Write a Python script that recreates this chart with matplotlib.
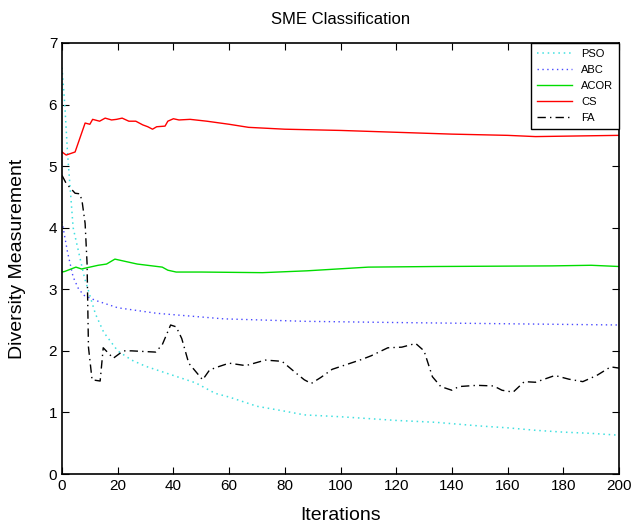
import matplotlib.pyplot as plt

plt.rcParams['font.family'] = ['Liberation Sans', 'DejaVu Sans']

# PSO
pso_it = [0, 1, 2, 3, 4, 6, 8, 10, 12, 15, 20, 25, 30, 40, 48, 55, 60, 70, 80, 87,
          100, 110, 120, 134, 150, 160, 170, 180, 190, 200]
pso_val = [6.6, 6.0, 5.2, 4.6, 4.0, 3.6, 3.2, 2.9, 2.6, 2.3, 2.0, 1.85, 1.75, 1.6, 1.48,
           1.31, 1.25, 1.1, 1.02, 0.96, 0.93, 0.9, 0.87, 0.84, 0.78, 0.75, 0.71, 0.68,
           0.66, 0.63]

# ABC
abc_it = [0, 2, 4, 6, 8, 12, 20, 34, 58, 87, 120, 160, 200]
abc_val = [4.1, 3.6, 3.2, 3.0, 2.9, 2.82, 2.7, 2.61, 2.52, 2.48, 2.46, 2.44, 2.42]

# ACOR
acor_it = [0, 1, 5, 7, 13, 16, 19, 23, 27, 36, 38, 41, 50, 72, 88, 110, 134, 176, 190, 200]
acor_val = [3.28, 3.29, 3.36, 3.33, 3.39, 3.41, 3.49, 3.45, 3.41, 3.36, 3.31, 3.28,
            3.28, 3.27, 3.3, 3.36, 3.37, 3.38, 3.39, 3.37]

# CS
cs_it = [0, 1.5, 4.7, 8.3, 10, 11, 13.5, 15.5, 17.8, 19.6, 21.6, 24, 26.5, 29, 30.8,
         32.5, 34, 37, 38, 40, 42, 46, 52, 60, 67, 80, 100, 120, 140, 160, 170, 200]
cs_val = [5.23, 5.18, 5.23, 5.7, 5.68, 5.76, 5.73, 5.78, 5.75, 5.76, 5.78, 5.73, 5.73,
          5.67, 5.64, 5.6, 5.64, 5.65, 5.73, 5.77, 5.75, 5.76, 5.73, 5.68, 5.63, 5.6,
          5.58, 5.55, 5.52, 5.5, 5.48, 5.5]

# FA
fa_it = [0, 1.5, 4.7, 6.5, 7.3, 8.3, 9, 9.5, 10.8, 13.7, 14.8, 18.4, 22, 25, 33.6, 36,
         39, 41, 43, 45.5, 50.5, 53, 56, 60, 66, 73, 79, 84, 87, 89.5, 93, 97, 107.6,
         111, 117, 122, 127, 130, 133, 136, 140, 142.5, 149, 155, 158, 162, 166, 170,
         177, 182, 187, 192, 197, 200]
fa_val = [4.85, 4.72, 4.56, 4.55, 4.4, 4.07, 3.42, 2.06, 1.53, 1.51, 2.05, 1.88, 2.0,
          2.0, 1.98, 2.1, 2.42, 2.39, 2.2, 1.8, 1.53, 1.69, 1.74, 1.8, 1.76, 1.85, 1.83,
          1.64, 1.53, 1.47, 1.57, 1.7, 1.86, 1.92, 2.05, 2.06, 2.12, 2.0, 1.58, 1.42,
          1.36, 1.42, 1.44, 1.43, 1.36, 1.33, 1.5, 1.49, 1.6, 1.54, 1.5, 1.6, 1.74, 1.72]

fig = plt.figure(figsize=(6.31, 5.28), dpi=100)
ax = fig.add_axes([62/631, 54/528, 557/631, 431/528])

dots = (0, (1, 2.5))
ax.plot(pso_it, pso_val, linestyle=dots, color='#40e0e0', lw=1.1, label='PSO')
ax.plot(abc_it, abc_val, linestyle=dots, color='#4848ff', lw=1.0, label='ABC')
ax.plot(acor_it, acor_val, '-', color='#00dd00', lw=1.0, label='ACOR')
ax.plot(cs_it, cs_val, '-', color='#ff0000', lw=1.0, label='CS')
ax.plot(fa_it, fa_val, linestyle=(0, (6, 3, 1, 3)), color='black', lw=1.0, label='FA')

ax.set_xlim(0, 200)
ax.set_ylim(0, 7)
ax.set_xticks(range(0, 201, 20))
ax.set_yticks(range(0, 8))
ax.tick_params(direction='in', top=True, right=True, labelsize=11, length=5)
for s in ax.spines.values():
    s.set_linewidth(1.2)

ax.set_title('SME Classification', fontsize=12, pad=14)
ax.set_xlabel('Iterations', fontsize=14, labelpad=10)
ax.set_ylabel('Diversity Measurement', fontsize=14, labelpad=16)

leg = ax.legend(loc='upper right', fontsize=8, fancybox=False, framealpha=1,
                edgecolor='black', borderaxespad=0, handlelength=3.2,
                labelspacing=0.55, borderpad=0.5)
leg.get_frame().set_linewidth(1.0)

fig.savefig('out.png', dpi=100)
